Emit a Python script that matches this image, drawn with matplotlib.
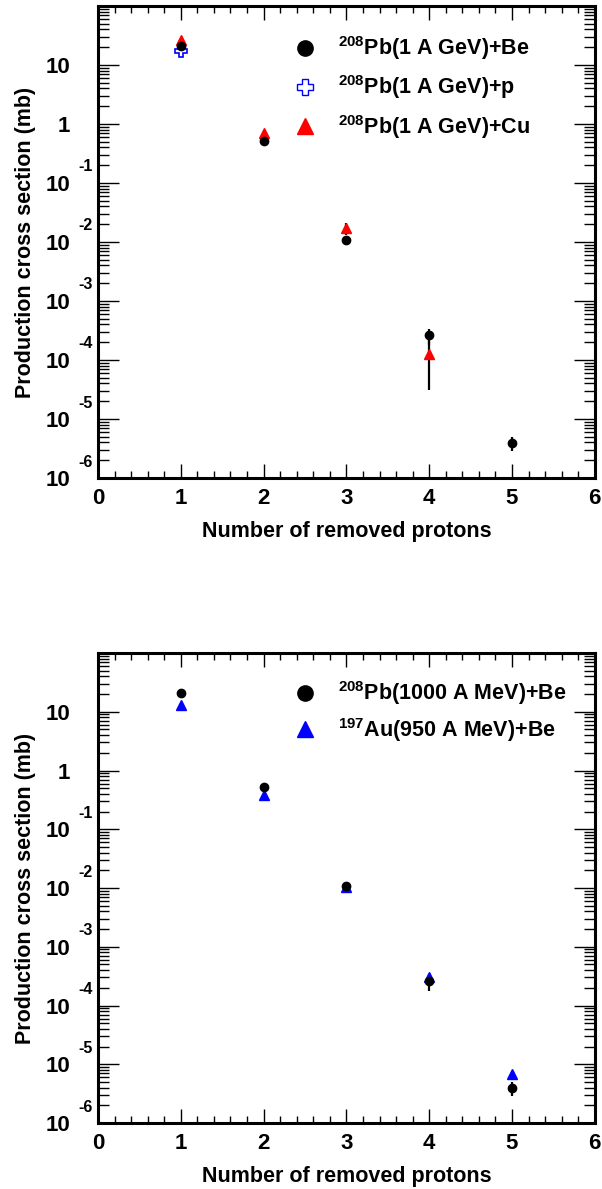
import numpy as np
import matplotlib
matplotlib.use('Agg')
import matplotlib.pyplot as plt
from matplotlib.ticker import MultipleLocator, LogLocator, FixedLocator, FixedFormatter, NullFormatter

plt.rcParams['font.family'] = 'Liberation Sans'
plt.rcParams['font.weight'] = 'bold'
plt.rcParams['mathtext.fontset'] = 'custom'
plt.rcParams['mathtext.rm'] = 'Liberation Sans:bold'
plt.rcParams['mathtext.bf'] = 'Liberation Sans:bold'
plt.rcParams['mathtext.it'] = 'Liberation Sans:bold'

# top panel : 208Pb(1 A GeV) on Be, p, Cu
n_be = [1, 2, 3, 4, 5]
xs_be = [21.0, 0.52, 0.011, 2.6e-4, 3.9e-6]
er_be = [1.5, 0.04, 0.001, 0.8e-4, 1.0e-6]

n_p = [1]
xs_p = [17.0]
er_p = [1.0]

n_cu = [1, 2, 3, 4]
xs_cu = [26.0, 0.70, 0.017, 1.26e-4]
er_cu = [2.0, 0.05, 0.004, 0.95e-4]

# bottom panel : 208Pb(1000 A MeV)+Be vs 197Au(950 A MeV)+Be
n_pb = [1, 2, 3, 4, 5]
xs_pb = [21.0, 0.52, 0.0108, 2.6e-4, 3.9e-6]
er_pb = [1.5, 0.04, 0.001, 0.8e-4, 1.0e-6]

n_au = [1, 2, 3, 4, 5]
xs_au = [13.0, 0.39, 0.0102, 3.1e-4, 6.8e-6]

decades = [-6, -5, -4, -3, -2, -1, 0, 1, 2]

fig = plt.figure(figsize=(6.02, 11.89), dpi=100)
ax1 = fig.add_axes([0.1628, 0.598, 0.8252, 0.397])
ax2 = fig.add_axes([0.1628, 0.0555, 0.8252, 0.3953])


def style(ax):
    ax.set_yscale('log')
    ax.set_xlim(0, 6)
    ax.set_ylim(1e-6, 1e2)
    for s in ax.spines.values():
        s.set_linewidth(2.2)
    ax.xaxis.set_major_locator(MultipleLocator(1))
    ax.xaxis.set_minor_locator(MultipleLocator(0.2))
    ax.yaxis.set_major_locator(FixedLocator([10.0**e for e in decades]))
    labs = []
    for e in decades:
        if e == 0:
            labs.append('1')
        elif e == 2:
            labs.append('')
        else:
            labs.append('10')
    ax.yaxis.set_major_formatter(FixedFormatter(labs))
    ax.yaxis.set_minor_locator(LogLocator(base=10, subs=np.arange(2, 10), numticks=20))
    ax.yaxis.set_minor_formatter(NullFormatter())
    ax.tick_params(axis='x', which='major', direction='in', top=True, length=10, width=1,
                   labelsize=16, pad=7)
    ax.tick_params(axis='x', which='minor', direction='in', top=True, length=5, width=1)
    ax.tick_params(axis='y', which='major', direction='in', right=True, length=15, width=1,
                   labelsize=16, pad=20)
    ax.tick_params(axis='y', which='minor', direction='in', right=True, length=8, width=1)
    for e in decades:
        if e in (0, 1, 2):
            continue
        ax.annotate('%d' % e, xy=(0, 10.0**e), xycoords=('axes fraction', 'data'),
                    xytext=(-4, 11.5), textcoords='offset points', ha='right', va='center',
                    fontsize=11.5, fontweight='bold', annotation_clip=False)
    ax.set_xlabel('Number of removed protons', fontsize=15.5, fontweight='bold', labelpad=9)
    ax.set_ylabel('Production cross section (mb)', fontsize=15.5, fontweight='bold')
    ax.yaxis.set_label_coords(-0.125, 0.5)


style(ax1)
ax1.errorbar(n_cu, xs_cu, yerr=er_cu, fmt='none', ecolor='black', elinewidth=1.6, capsize=0)
ax1.errorbar(n_p, xs_p, yerr=er_p, fmt='none', ecolor='black', elinewidth=1.6, capsize=0)
ax1.errorbar(n_be, xs_be, yerr=er_be, fmt='none', ecolor='black', elinewidth=1.6, capsize=0)
ax1.plot(n_cu, xs_cu, ls='none', marker='^', ms=7, color='red', mec='red', zorder=3)
ax1.plot(n_p, xs_p, ls='none', marker='P', ms=8, mfc='white', mec='blue', mew=1.2, zorder=3)
ax1.plot(n_be, xs_be, ls='none', marker='o', ms=6, color='black', zorder=4)
# legend entries
h_be, = ax1.plot([], [], ls='none', marker='o', ms=11, color='black',
                 label=r'$^{208}$Pb(1 A GeV)+Be')
h_p, = ax1.plot([], [], ls='none', marker='P', ms=11, mfc='white', mec='blue', mew=1.0,
                label=r'$^{208}$Pb(1 A GeV)+p')
h_cu, = ax1.plot([], [], ls='none', marker='^', ms=11, color='red',
                 label=r'$^{208}$Pb(1 A GeV)+Cu')
ax1.legend(handles=[h_be, h_p, h_cu], loc='upper left', bbox_to_anchor=(0.396, 0.94),
           frameon=False, borderpad=0, borderaxespad=0, handlelength=1.0, handletextpad=1.0,
           labelspacing=0.53, prop={'size': 15.5, 'weight': 'bold'})

style(ax2)
ax2.errorbar(n_pb, xs_pb, yerr=er_pb, fmt='none', ecolor='black', elinewidth=1.6, capsize=0)
ax2.plot(n_au, xs_au, ls='none', marker='^', ms=7, color='blue', zorder=3)
ax2.plot(n_pb, xs_pb, ls='none', marker='o', ms=6, color='black', zorder=4)
h_pb, = ax2.plot([], [], ls='none', marker='o', ms=11, color='black',
                 label=r'$^{208}$Pb(1000 A MeV)+Be')
h_au, = ax2.plot([], [], ls='none', marker='^', ms=11, color='blue',
                 label=r'$^{197}$Au(950 A MeV)+Be')
ax2.legend(handles=[h_pb, h_au], loc='upper left', bbox_to_anchor=(0.396, 0.944),
           frameon=False, borderpad=0, borderaxespad=0, handlelength=1.0, handletextpad=1.0,
           labelspacing=0.39, prop={'size': 15.5, 'weight': 'bold'})

fig.savefig('out.png', dpi=100)
